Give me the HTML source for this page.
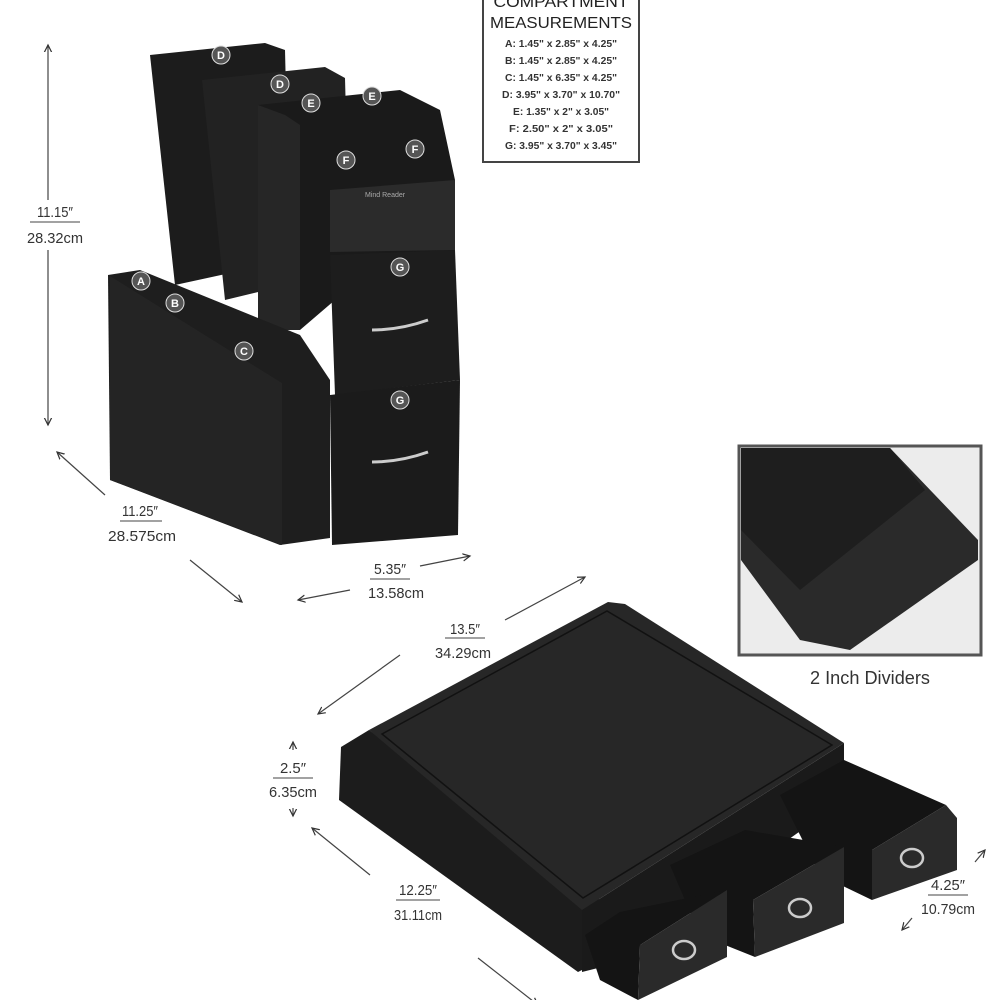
<!DOCTYPE html>
<html><head><meta charset="utf-8"><style>
html,body{margin:0;padding:0;background:#fff;}
svg{display:block;}
text{font-family:"Liberation Sans",sans-serif;fill:#333;}
.lbl{font-size:15px;}
.sm{font-size:10px;font-weight:bold;fill:#333;}
</style></head><body>
<svg width="1000" height="1000" viewBox="0 0 1000 1000" xmlns="http://www.w3.org/2000/svg">
<defs>
<marker id="ah" markerWidth="8" markerHeight="8" refX="6" refY="4" orient="auto"><path d="M0,1 L6,4 L0,7" fill="none" stroke="#333" stroke-width="1"/></marker>
</defs>
<rect x="483" y="-4" width="156" height="166" fill="#fff" stroke="#444" stroke-width="2"/>
<text x="561" y="7" text-anchor="middle" style="font-size:16px;fill:#222" textLength="135" lengthAdjust="spacingAndGlyphs">COMPARTMENT</text>
<text x="561" y="28" text-anchor="middle" style="font-size:16px;fill:#222" textLength="142" lengthAdjust="spacingAndGlyphs">MEASUREMENTS</text>
<g text-anchor="middle">
<text class="sm" x="561" y="47" textLength="112" lengthAdjust="spacingAndGlyphs">A: 1.45" x 2.85" x 4.25"</text>
<text class="sm" x="561" y="64" textLength="112" lengthAdjust="spacingAndGlyphs">B: 1.45" x 2.85" x 4.25"</text>
<text class="sm" x="561" y="81" textLength="112" lengthAdjust="spacingAndGlyphs">C: 1.45" x 6.35" x 4.25"</text>
<text class="sm" x="561" y="98" textLength="118" lengthAdjust="spacingAndGlyphs">D: 3.95" x 3.70" x 10.70"</text>
<text class="sm" x="561" y="115" textLength="96" lengthAdjust="spacingAndGlyphs">E: 1.35" x 2" x 3.05"</text>
<text class="sm" x="561" y="132" textLength="104" lengthAdjust="spacingAndGlyphs">F: 2.50" x  2" x 3.05"</text>
<text class="sm" x="561" y="149" textLength="112" lengthAdjust="spacingAndGlyphs">G: 3.95" x 3.70" x 3.45"</text>
</g>
<g stroke="#444" stroke-width="1.2" marker-end="url(#ah)">
<line x1="48" y1="200" x2="48" y2="45"/><line x1="48" y1="250" x2="48" y2="425"/>
<line x1="105" y1="495" x2="57" y2="452"/><line x1="190" y1="560" x2="242" y2="602"/>
<line x1="350" y1="590" x2="298" y2="600"/><line x1="420" y1="566" x2="470" y2="556"/>
<line x1="400" y1="655" x2="318" y2="714"/><line x1="505" y1="620" x2="585" y2="577"/>
<line x1="293" y1="750" x2="293" y2="742"/><line x1="293" y1="808" x2="293" y2="816"/>
<line x1="370" y1="875" x2="312" y2="828"/><line x1="478" y1="958" x2="538" y2="1005"/>
<line x1="975" y1="862" x2="985" y2="850"/><line x1="912" y1="918" x2="902" y2="930"/>
</g>
<g text-anchor="middle">
<text x="55" y="217" class="lbl" textLength="36" lengthAdjust="spacingAndGlyphs">11.15″</text><line x1="30" y1="222" x2="80" y2="222" stroke="#444"/><text x="55" y="243" class="lbl" textLength="56" lengthAdjust="spacingAndGlyphs">28.32cm</text>
<text x="140" y="516" class="lbl" textLength="36" lengthAdjust="spacingAndGlyphs">11.25″</text><line x1="120" y1="521" x2="162" y2="521" stroke="#444"/><text x="142" y="541" class="lbl" textLength="68" lengthAdjust="spacingAndGlyphs">28.575cm</text>
<text x="390" y="574" class="lbl" textLength="32" lengthAdjust="spacingAndGlyphs">5.35″</text><line x1="370" y1="579" x2="410" y2="579" stroke="#444"/><text x="396" y="598" class="lbl" textLength="56" lengthAdjust="spacingAndGlyphs">13.58cm</text>
<text x="465" y="634" class="lbl" textLength="30" lengthAdjust="spacingAndGlyphs">13.5″</text><line x1="445" y1="638" x2="485" y2="638" stroke="#444"/><text x="463" y="658" class="lbl" textLength="56" lengthAdjust="spacingAndGlyphs">34.29cm</text>
<text x="293" y="773" class="lbl" textLength="26" lengthAdjust="spacingAndGlyphs">2.5″</text><line x1="273" y1="778" x2="313" y2="778" stroke="#444"/><text x="293" y="797" class="lbl" textLength="48" lengthAdjust="spacingAndGlyphs">6.35cm</text>
<text x="418" y="895" class="lbl" textLength="38" lengthAdjust="spacingAndGlyphs">12.25″</text><line x1="396" y1="900" x2="440" y2="900" stroke="#444"/><text x="418" y="920" class="lbl" textLength="48" lengthAdjust="spacingAndGlyphs">31.11cm</text>
<text x="870" y="684" style="font-size:18px;fill:#333" textLength="120" lengthAdjust="spacingAndGlyphs">2 Inch Dividers</text>
</g>
<!-- organizer -->
<g>
<path d="M150,55 L265,43 L285,50 L290,260 L175,285 Z" fill="#1c1c1c"/>
<path d="M202,80 L325,67 L345,78 L350,270 L225,300 Z" fill="#222"/>
<path d="M258,105 L400,90 L440,110 L455,180 L455,300 L335,300 L300,330 L260,330 Z" fill="#1a1a1a"/>
<path d="M258,105 L285,115 L300,125 L300,330 L258,330 Z" fill="#262626"/>
<path d="M330,190 L455,180 L455,250 L330,252 Z" fill="#2b2b2b"/>
<text x="365" y="197" style="font-size:7px;fill:#aaa">Mind Reader</text>
<path d="M108,275 L140,270 L300,335 L330,380 L330,538 L280,545 L110,480 Z" fill="#1e1e1e"/>
<path d="M110,276 L282,383 L282,545 L110,480 Z" fill="#242424"/>
<path d="M330,255 L455,250 L460,380 L335,395 Z" fill="#1d1d1d"/>
<path d="M330,395 L460,380 L458,535 L332,545 Z" fill="#1b1b1b"/>
<path d="M372,330 Q400,330 428,320" stroke="#ccc" stroke-width="3" fill="none"/>
<path d="M372,462 Q400,462 428,452" stroke="#ccc" stroke-width="3" fill="none"/>
<g fill="#555" stroke="#ddd" stroke-width="1"><circle cx="221" cy="55" r="9"/><circle cx="280" cy="84" r="9"/><circle cx="311" cy="103" r="9"/><circle cx="372" cy="96" r="9"/><circle cx="346" cy="160" r="9"/><circle cx="415" cy="149" r="9"/><circle cx="141" cy="281" r="9"/><circle cx="175" cy="303" r="9"/><circle cx="244" cy="351" r="9"/><circle cx="400" cy="267" r="9"/><circle cx="400" cy="400" r="9"/></g>
<g text-anchor="middle" style="font-size:11px;font-weight:bold"><text x="221" y="59" style="fill:#fff">D</text><text x="280" y="88" style="fill:#fff">D</text><text x="311" y="107" style="fill:#fff">E</text><text x="372" y="100" style="fill:#fff">E</text><text x="346" y="164" style="fill:#fff">F</text><text x="415" y="153" style="fill:#fff">F</text><text x="141" y="285" style="fill:#fff">A</text><text x="175" y="307" style="fill:#fff">B</text><text x="244" y="355" style="fill:#fff">C</text><text x="400" y="271" style="fill:#fff">G</text><text x="400" y="404" style="fill:#fff">G</text></g>
</g>
<!-- inset -->
<rect x="739" y="446" width="242" height="209" fill="#ececec" stroke="#555" stroke-width="3"/>
<path d="M741,448 L890,448 L978,540 L978,560 L850,650 L800,640 L741,560 Z" fill="#2a2a2a"/>
<path d="M741,448 L890,448 L925,490 L800,590 L741,530 Z" fill="#1e1e1e"/>
<!-- drawer unit -->
<path d="M341,747 L369,730 L600,900 L582,970 L578,972 L339,800 Z" fill="#1c1c1c"/>
<path d="M582,910 L844,743 L844,800 L640,945 L630,960 L582,972 Z" fill="#1a1a1a"/>
<path d="M369,730 L608,602 L625,604 L844,743 L582,910 Z" fill="#272727"/>
<path d="M382,734 L607,611 L832,745 L583,898 Z" fill="none" stroke="#111" stroke-width="1.5"/>
<path d="M780,795 L844,760 L946,805 L872,850 L872,900 L820,875 Z" fill="#141414"/>
<path d="M670,865 L745,830 L844,847 L753,900 L755,957 L700,935 Z" fill="#141414"/>
<path d="M585,935 L620,912 L727,890 L640,945 L638,1000 L600,980 Z" fill="#141414"/>
<path d="M872,850 L946,805 L957,818 L957,870 L872,900 Z" fill="#2a2a2a"/>
<path d="M753,900 L844,847 L844,923 L755,957 Z" fill="#2a2a2a"/>
<path d="M640,945 L727,890 L727,957 L638,1000 Z" fill="#2a2a2a"/>
<g stroke="#ccc" stroke-width="2.5" fill="none"><ellipse cx="912" cy="858" rx="11" ry="9"/><ellipse cx="800" cy="908" rx="11" ry="9"/><ellipse cx="684" cy="950" rx="11" ry="9"/></g>
<g text-anchor="middle">
<text x="948" y="890" class="lbl" textLength="34" lengthAdjust="spacingAndGlyphs">4.25″</text><line x1="928" y1="895" x2="968" y2="895" stroke="#444"/><text x="948" y="914" class="lbl" textLength="54" lengthAdjust="spacingAndGlyphs">10.79cm</text>
</g>
</svg>
</body></html>
